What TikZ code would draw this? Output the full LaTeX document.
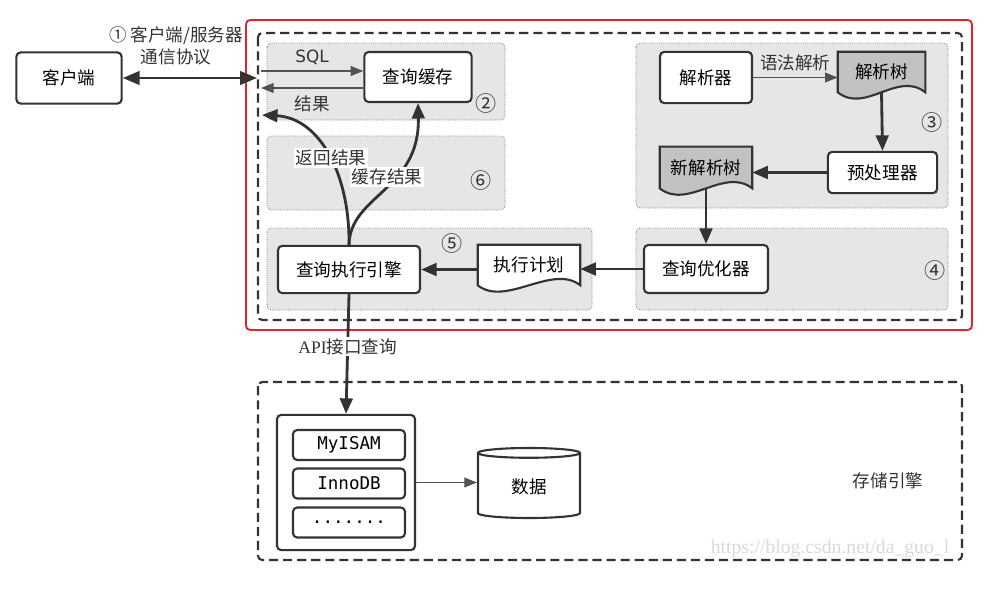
\documentclass[tikz,border=0pt]{standalone}
\usepackage{fontspec}
\setmainfont{Noto Sans CJK SC}
\newfontfamily\monofont{DejaVu Sans Mono}
\newfontfamily\sqlfont{DejaVu Sans}
\newfontfamily\apifont{Liberation Serif}
\usetikzlibrary{arrows.meta,shapes.geometric,backgrounds}
\definecolor{redframe}{HTML}{E3232C}
\definecolor{zonegray}{HTML}{E6E6E6}
\definecolor{docgray}{HTML}{C2C2C2}
\definecolor{linedark}{HTML}{333333}
\newcommand{\docshape}[2]{%
\begin{scope}[on background layer]
\path[draw=linedark, line width=1.5pt, fill=#2] (#1.south west) -- (#1.north west) -- (#1.north east) -- (#1.south east)
  .. controls ([xshift=-0.7cm, yshift=0.55cm]#1.south east) and ([xshift=0.7cm, yshift=-0.55cm]#1.south west) .. (#1.south west) -- cycle;
\end{scope}}
\begin{document}
\begin{tikzpicture}[x=0.025cm, y=-0.025cm,
  box/.style={draw=linedark, line width=1.5pt, rounded corners=3pt, fill=white, text=black, font=\fontsize{12.5}{14}\selectfont},
  docbox/.style={inner sep=0pt, text=black, font=\fontsize{12.5}{14}\selectfont},
  subbox/.style={draw=linedark, line width=1.5pt, rounded corners=3pt, fill=white, font=\monofont\fontsize{12.5}{14}\selectfont, minimum width=2.8cm, minimum height=0.75cm},
  zone/.style={draw=gray, densely dotted, fill=zonegray, rounded corners=3pt, line width=0.6pt},
  dashframe/.style={draw=linedark, line width=1.5pt, dash pattern=on 6.5pt off 3.5pt, rounded corners=3pt},
  smallarrow/.style={draw=linedark!85, line width=0.9pt, -{Triangle[length=9pt,width=7pt]}},
  bigarrow/.style={draw=linedark, line width=2pt, -{Triangle[length=11pt,width=9pt]}},
  lbl/.style={font=\fontsize{12.5}{15.5}\selectfont, text=linedark},
  num/.style={font=\fontsize{15}{16}\selectfont, text=linedark}]
\useasboundingbox (0,0) rectangle (986,597);
\begin{scope}[on background layer]
\draw[zone] (267,43) rectangle (505,120);
\draw[zone] (267,136) rectangle (505,210);
\draw[zone] (636,43) rectangle (948,208);
\draw[zone] (267,228) rectangle (592,310);
\draw[zone] (636,228) rectangle (948,310);
\end{scope}
\draw[redframe, line width=1.3pt, rounded corners=3pt] (246,20) rectangle (972,330);
\draw[dashframe] (258,33) rectangle (962,320);
\draw[dashframe] (258,382) rectangle (962,560);

\node[box, minimum width=2.63cm, minimum height=1.28cm] (client) at (69,78) {客户端};
\coordinate (srv) at (257,78);
\draw[bigarrow, {Triangle[length=12pt,width=9.5pt]}-{Triangle[length=12pt,width=9.5pt]}] (client) -- (srv);
\node[lbl, align=center] (proto) at (176,46) {① 客户端/服务器\\通信协议};

\node[box, minimum width=2.68cm, minimum height=1.25cm] (cache) at (418,77) {查询缓存};
\coordinate (sqlin) at (261,71);
\coordinate (resout) at (261,88);
\draw[smallarrow] (sqlin) -- (sqlin -| cache.west) node[midway, above=1pt, font=\sqlfont\fontsize{12}{14}\selectfont, text=linedark] {SQL};
\draw[smallarrow] (resout -| cache.west) -- (resout) node[midway, below=2pt, lbl] {结果};
\node[num] (n2) at (486,103) {②};
\node[num] (n6) at (481,180) {⑥};

\node[box, minimum width=2.3cm, minimum height=1.28cm] (parser) at (706,77.5) {解析器};
\node[docbox, minimum width=2.175cm, minimum height=1.0cm] (tree) at (881.5,72) {解析树};
\docshape{tree}{docgray}
\draw[smallarrow] (parser.east) -- (parser.east -| tree.west) node[midway, above=1pt, lbl] {语法解析};
\node[box, minimum width=2.73cm, minimum height=1.03cm] (prep) at (882.5,172.5) {预处理器};
\draw[bigarrow] (tree.south) -- (prep.north);
\node[docbox, minimum width=2.3cm, minimum height=1.03cm] (newtree) at (706,167.5) {新解析树};
\docshape{newtree}{docgray}
\draw[bigarrow] (prep.west) -- (prep.west -| newtree.east);
\node[num] (n3) at (932,122) {③};

\node[box, minimum width=3.1cm, minimum height=1.2cm] (opt) at (706,269) {查询优化器};
\draw[bigarrow] (newtree.south) -- (opt.north);
\node[docbox, minimum width=2.55cm, minimum height=1.0cm] (plan) at (529,265) {执行计划};
\docshape{plan}{white}
\draw[bigarrow] (opt.west) -- (opt.west -| plan.east);
\node[box, minimum width=3.55cm, minimum height=1.18cm] (exec) at (349,269.5) {查询执行引擎};
\draw[bigarrow] (exec.east -| plan.west) -- (exec.east);
\node[num] (n4) at (935,270) {④};
\node[num] (n5) at (452,243) {⑤};

\coordinate (retpt) at (262,115);
\draw[bigarrow] (exec.north) .. controls (350,175) and (320,118) .. (retpt);
\draw[bigarrow] (exec.north) .. controls (350,195) and (420,190) .. (cache.south);
\node[lbl, fill=white, inner sep=1pt] (ret) at (331,158) {返回结果};
\node[lbl, fill=white, inner sep=1pt] (cacheres) at (387,177) {缓存结果};

\node[box, minimum width=3.45cm, minimum height=3.38cm] (engine) at (346,482.5) {};
\node[subbox] (myisam) at (349,445) {MyISAM};
\node[subbox] (innodb) at (349,483.5) {InnoDB};
\node[subbox] (more) at (349,522.5) {.......};
\draw[bigarrow] (exec.south) -- (engine.north) node[pos=0.44, lbl, fill=white, inner sep=1pt] {{\apifont API}接口查询};
\node[cylinder, shape border rotate=90, aspect=0.22, draw=linedark, line width=1.5pt, fill=white, minimum width=2.55cm, minimum height=1.75cm, font=\fontsize{12.5}{14}\selectfont] (data) at (529,487) {数据};
\draw[smallarrow] (engine.east) -- (engine.east -| data.west);
\node[lbl] (store) at (888,481) {存储引擎};
\node[font=\apifont\fontsize{14}{14}\selectfont, text=gray!30] (wm) at (830,549) {https://blog.csdn.net/da\_guo\_l};
\end{tikzpicture}
\end{document}
